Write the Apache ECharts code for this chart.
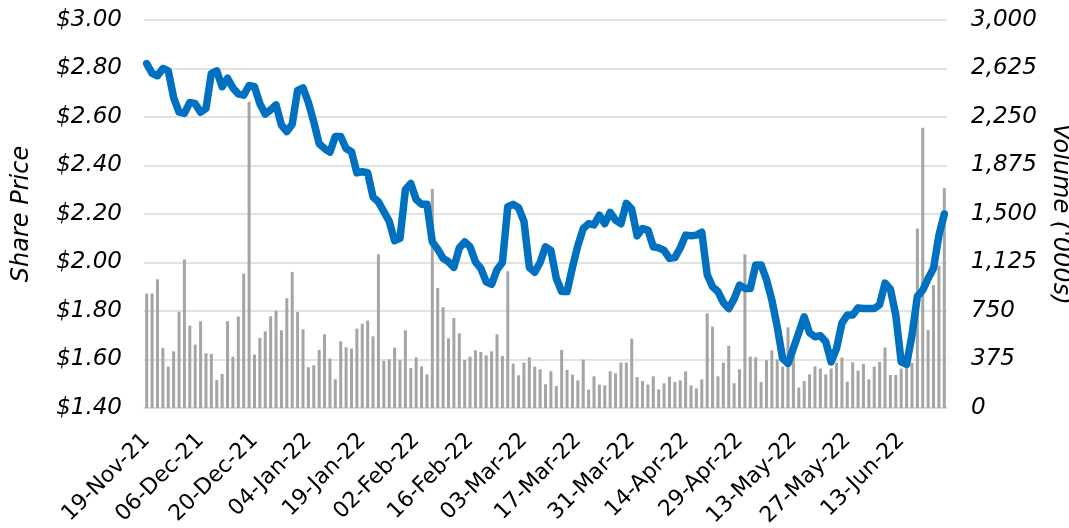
<!DOCTYPE html>
<html>
<head>
<meta charset="utf-8">
<script src="https://cdn.jsdelivr.net/npm/echarts@6/dist/echarts.min.js"></script>
<style>
  html, body { margin: 0; padding: 0; background: #fff; }
  #main { width: 1069px; height: 528px; }
</style>
</head>
<body>
<div id="main"></div>
<script>
// trading days, 19-Nov-21 .. 24-Jun-22
var dates = [
    '19-Nov-21','22-Nov-21','23-Nov-21','24-Nov-21','26-Nov-21','29-Nov-21','30-Nov-21',
    '01-Dec-21','02-Dec-21','03-Dec-21','06-Dec-21','07-Dec-21','08-Dec-21','09-Dec-21','10-Dec-21','13-Dec-21','14-Dec-21','15-Dec-21','16-Dec-21','17-Dec-21','20-Dec-21','21-Dec-21','22-Dec-21','23-Dec-21','27-Dec-21','28-Dec-21','29-Dec-21','30-Dec-21','31-Dec-21',
    '03-Jan-22','04-Jan-22','05-Jan-22','06-Jan-22','07-Jan-22','10-Jan-22','11-Jan-22','12-Jan-22','13-Jan-22','14-Jan-22','18-Jan-22','19-Jan-22','20-Jan-22','21-Jan-22','24-Jan-22','25-Jan-22','26-Jan-22','27-Jan-22','28-Jan-22','31-Jan-22',
    '01-Feb-22','02-Feb-22','03-Feb-22','04-Feb-22','07-Feb-22','08-Feb-22','09-Feb-22','10-Feb-22','11-Feb-22','14-Feb-22','15-Feb-22','16-Feb-22','17-Feb-22','18-Feb-22','22-Feb-22','23-Feb-22','24-Feb-22','25-Feb-22','28-Feb-22',
    '01-Mar-22','02-Mar-22','03-Mar-22','04-Mar-22','07-Mar-22','08-Mar-22','09-Mar-22','10-Mar-22','11-Mar-22','14-Mar-22','15-Mar-22','16-Mar-22','17-Mar-22','18-Mar-22','21-Mar-22','22-Mar-22','23-Mar-22','24-Mar-22','25-Mar-22','28-Mar-22','29-Mar-22','30-Mar-22','31-Mar-22',
    '01-Apr-22','04-Apr-22','05-Apr-22','06-Apr-22','07-Apr-22','08-Apr-22','11-Apr-22','12-Apr-22','13-Apr-22','14-Apr-22','18-Apr-22','19-Apr-22','20-Apr-22','21-Apr-22','22-Apr-22','25-Apr-22','26-Apr-22','27-Apr-22','28-Apr-22','29-Apr-22',
    '02-May-22','03-May-22','04-May-22','05-May-22','06-May-22','09-May-22','10-May-22','11-May-22','12-May-22','13-May-22','16-May-22','17-May-22','18-May-22','19-May-22','20-May-22','23-May-22','24-May-22','25-May-22','26-May-22','27-May-22','31-May-22',
    '01-Jun-22','02-Jun-22','03-Jun-22','06-Jun-22','07-Jun-22','08-Jun-22','09-Jun-22','10-Jun-22','13-Jun-22','14-Jun-22','15-Jun-22','16-Jun-22','17-Jun-22','21-Jun-22','22-Jun-22','23-Jun-22','24-Jun-22'
];

var price = [
    2.82, 2.78, 2.77, 2.80, 2.79, 2.68, 2.62, 2.615, 2.66, 2.655,
    2.62, 2.635, 2.78, 2.79, 2.725, 2.76, 2.72, 2.695, 2.69, 2.73,
    2.725, 2.655, 2.612, 2.63, 2.65, 2.567, 2.54, 2.57, 2.71, 2.72,
    2.66, 2.58, 2.49, 2.47, 2.455, 2.52, 2.52, 2.47, 2.457, 2.37,
    2.374, 2.37, 2.27, 2.25, 2.21, 2.17, 2.09, 2.10, 2.30, 2.326,
    2.26, 2.24, 2.24, 2.085, 2.055, 2.017, 2.003, 1.98, 2.06, 2.085,
    2.065, 2.003, 1.976, 1.92, 1.91, 1.97, 2.00, 2.23, 2.24, 2.226,
    2.17, 1.98, 1.96, 2.00, 2.065, 2.05, 1.935, 1.88, 1.88, 1.98,
    2.07, 2.14, 2.16, 2.155, 2.195, 2.16, 2.207, 2.175, 2.16, 2.244,
    2.22, 2.11, 2.14, 2.134, 2.065, 2.06, 2.05, 2.017, 2.02, 2.06,
    2.113, 2.11, 2.113, 2.125, 1.95, 1.90, 1.88, 1.835, 1.81, 1.85,
    1.907, 1.893, 1.893, 1.99, 1.99, 1.93, 1.845, 1.735, 1.604, 1.584,
    1.646, 1.71, 1.776, 1.71, 1.694, 1.698, 1.673, 1.59, 1.645, 1.75,
    1.783, 1.783, 1.813, 1.81, 1.81, 1.81, 1.826, 1.915, 1.89, 1.783,
    1.59, 1.58, 1.70, 1.86, 1.886, 1.934, 1.976, 2.113, 2.20
];

// volume in '000s
var volume = [
    885, 885, 995, 464, 320, 438, 743, 1148, 637, 490,
    671, 423, 418, 217, 263, 671, 397, 707, 1039, 2368,
    413, 542, 593, 709, 753, 601, 849, 1052, 743, 609,
    315, 330, 449, 570, 382, 222, 516, 469, 459, 614,
    652, 676, 554, 1189, 364, 377, 467, 369, 601, 309,
    392, 322, 260, 1694, 928, 779, 539, 696, 578, 371,
    397, 446, 433, 407, 438, 570, 402, 1057, 343, 253,
    351, 392, 320, 299, 183, 284, 170, 449, 294, 258,
    214, 374, 142, 245, 181, 175, 284, 268, 351, 351,
    536, 240, 209, 181, 245, 144, 191, 242, 201, 214,
    284, 175, 152, 222, 732, 629, 245, 351, 480, 191,
    299, 1189, 397, 392, 201, 370, 446, 376, 320, 624,
    400, 158, 208, 260, 322, 305, 260, 305, 350, 390,
    203, 353, 289, 340, 222, 320, 356, 469, 255, 255,
    305, 320, 350, 1388, 2167, 603, 950, 1100, 1700
];

var myChart = echarts.init(document.getElementById('main'));

var font = 'DejaVu Sans';

var option = {
    animation: false,
    grid: {
        left: 144,
        right: 122,
        top: 20,
        bottom: 120,
        outerBoundsMode: 'none'
    },
    xAxis: {
        type: 'category',
        data: dates,
        boundaryGap: true,
        axisLine: { lineStyle: { color: '#D9D9D9', width: 1.5 } },
        axisTick: { interval: 4, length: 6, lineStyle: { color: '#D9D9D9', width: 1.5 } },
        axisLabel: {
            interval: 9,
            rotate: 45,
            margin: 29,
            color: '#000',
            fontFamily: font,
            fontSize: 22
        }
    },
    yAxis: [
        {
            type: 'value',
            min: 1.4,
            max: 3.0,
            interval: 0.2,
            name: 'Share Price',
            nameLocation: 'middle',
            nameGap: 110,
            nameTextStyle: { color: '#000', fontFamily: font, fontSize: 24, fontStyle: 'italic' },
            axisLine: { show: false },
            axisTick: { show: false },
            splitLine: { lineStyle: { color: '#D9D9D9', width: 1.5 } },
            axisLabel: {
                margin: 22,
                color: '#000',
                fontFamily: font,
                fontSize: 23,
                fontStyle: 'italic',
                formatter: function (v) { return '$' + v.toFixed(2); }
            }
        },
        {
            type: 'value',
            min: 0,
            max: 3000,
            interval: 375,
            name: "Volume ('000s)",
            nameLocation: 'middle',
            nameGap: 87,
            nameRotate: -90,
            nameTextStyle: { color: '#000', fontFamily: font, fontSize: 24, fontStyle: 'italic' },
            axisLine: { show: false },
            axisTick: { show: false },
            splitLine: { show: false },
            axisLabel: {
                margin: 24,
                color: '#000',
                fontFamily: font,
                fontSize: 23,
                fontStyle: 'italic',
                formatter: function (v) { return v.toLocaleString('en-US'); }
            }
        }
    ],
    series: [
        {
            name: 'Volume',
            type: 'bar',
            yAxisIndex: 1,
            data: volume,
            barWidth: 3,
            itemStyle: { color: '#A5A5A5' }
        },
        {
            name: 'Share Price',
            type: 'line',
            yAxisIndex: 0,
            data: price,
            symbol: 'none',
            z: 3,
            lineStyle: { color: '#0070C0', width: 7.5, join: 'round', cap: 'round' }
        }
    ]
};

myChart.setOption(option);
</script>
</body>
</html>
